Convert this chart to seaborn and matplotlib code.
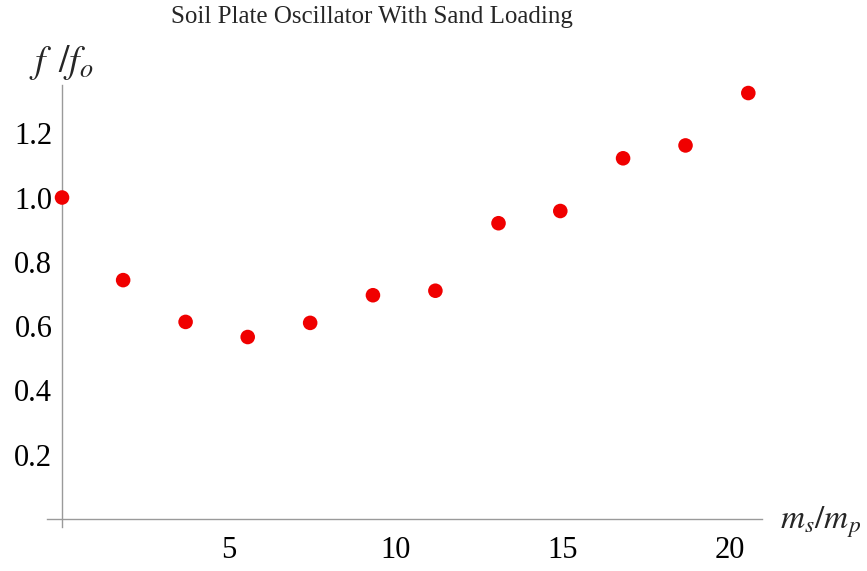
import matplotlib
matplotlib.use("Agg")
import matplotlib.pyplot as plt
from matplotlib.ticker import MultipleLocator, FixedLocator
import seaborn as sns
import pandas as pd

# mass ratio m_s/m_p and normalised frequency f/f_o
mass_ratio = [0.0, 1.83, 3.70, 5.56, 7.43, 9.31, 11.18, 13.07, 14.92, 16.80, 18.67, 20.55]
freq_ratio = [1.00, 0.743, 0.613, 0.566, 0.610, 0.696, 0.710, 0.920, 0.958, 1.122, 1.162, 1.325]
x_ticks = [5, 10, 15, 20]
y_ticks = [0.2, 0.4, 0.6, 0.8, 1.0, 1.2]

df = pd.DataFrame({"ratio": mass_ratio, "freq": freq_ratio})

sns.set_theme(style="white")
plt.rcParams["font.family"] = ["Liberation Serif", "DejaVu Serif"]
plt.rcParams["mathtext.fontset"] = "stix"

W, H = 867, 571
fig = plt.figure(figsize=(W / 100, H / 100), dpi=100)
ax = fig.add_axes([47 / W, (H - 527) / H, (762 - 47) / W, (527 - 85) / H])

sns.scatterplot(data=df, x="ratio", y="freq", ax=ax, color="#f00000",
                s=110, edgecolor="none", zorder=5, clip_on=False)

ax.set_xlim(-0.45, 20.96)
ax.set_ylim(-0.025, 1.35)
for side in ["top", "right"]:
    ax.spines[side].set_visible(False)
ax.spines["left"].set_position(("data", 0))
ax.spines["bottom"].set_position(("data", 0))
for side in ["left", "bottom"]:
    ax.spines[side].set_color("#9a9a9a")
    ax.spines[side].set_linewidth(1.0)

ax.xaxis.set_major_locator(FixedLocator(x_ticks))
ax.yaxis.set_major_locator(FixedLocator(y_ticks))
ax.xaxis.set_minor_locator(MultipleLocator(1))
ax.yaxis.set_minor_locator(MultipleLocator(0.05))
ax.set_xticklabels([str(t) for t in x_ticks])
ax.set_yticklabels([f"{t:.1f}" for t in y_ticks])
ax.tick_params(axis="both", which="major", direction="in", length=4, width=0.8,
               color="#b0b0b0", labelsize=22, labelcolor="black")
ax.tick_params(axis="both", which="minor", direction="in", length=2, width=0.6,
               color="#c8c8c8")
ax.tick_params(axis="x", which="major", pad=12)
ax.tick_params(axis="y", which="major", pad=7)
ax.set_xlabel("")
ax.set_ylabel("")
ax.grid(False)

fig.text(372 / W, 1 - 17 / H, "Soil Plate Oscillator With Sand Loading",
         ha="center", va="center", fontsize=18)
fig.text(29 / W, 1 - 62 / H, r"$f\ \,/f_o$", ha="left", va="center", fontsize=27)
fig.text(780 / W, 1 - 522 / H, r"$m_s/m_p$", ha="left", va="center", fontsize=24)

fig.savefig("out.png", dpi=100, facecolor="white")
